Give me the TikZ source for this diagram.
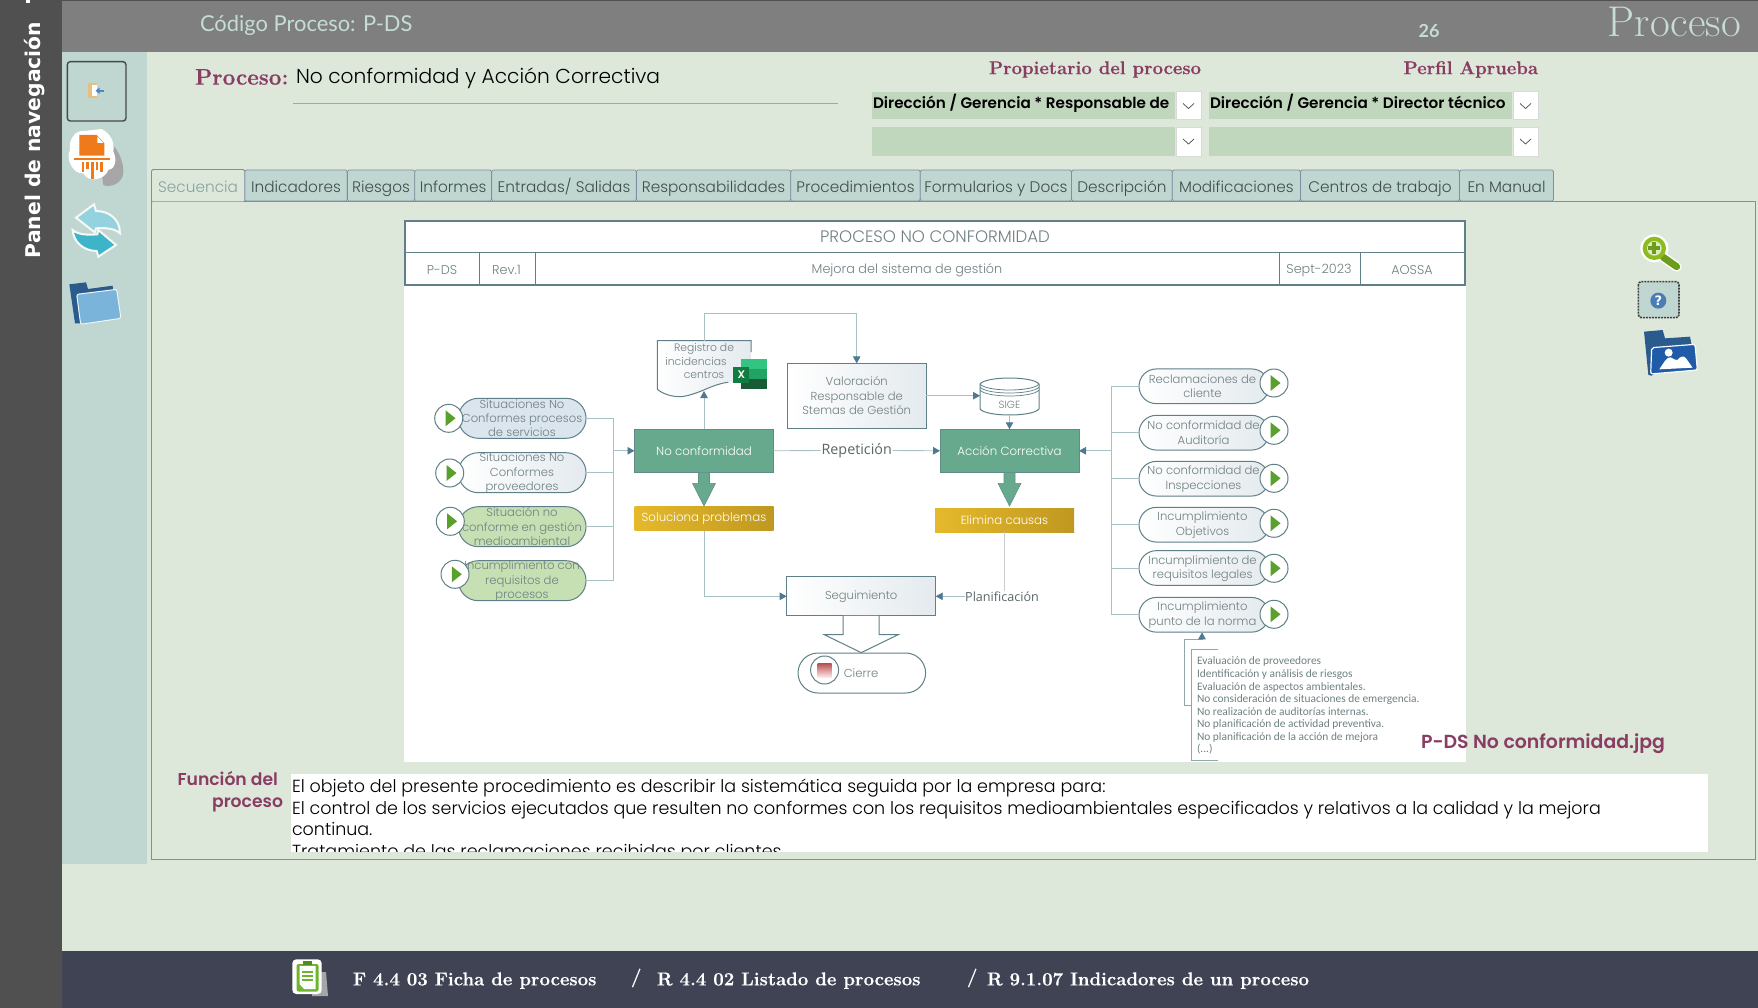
\documentclass[tikz,border=0pt]{standalone}
\usepackage{fontspec}
\usepackage{xcolor}
\usepackage{tikz}
\usetikzlibrary{arrows.meta,shapes.misc,shapes.geometric,shadings}
\newfontfamily\gothic{Poppins Light}
\newfontfamily\gothicb{Poppins SemiBold}
\newfontfamily\plainsans{Open Sans}
\newfontfamily\smallsans{Carlito}
\newfontfamily\headsans{Lato}
\newfontfamily\panelsans{DejaVu Sans}
\newfontfamily\modernb[FakeBold=0.5]{Latin Modern Roman}
\newcommand{\fs}[2]{\fontsize{#1}{#2}\selectfont}
\definecolor{pagebg}{HTML}{DDE8DB}
\definecolor{sideteal}{HTML}{C0D6D0}
\definecolor{barGrey}{HTML}{7F7F7F}
\definecolor{bandGrey}{HTML}{505050}
\definecolor{footDark}{HTML}{404354}
\definecolor{maroon}{HTML}{8A3D63}
\definecolor{fieldgreen}{HTML}{C1D7BD}
\definecolor{headtxt}{HTML}{C6DCD6}
\definecolor{tabline}{HTML}{7F8FA3}
\definecolor{tabtxt}{HTML}{3F4D4F}
\definecolor{seltxt}{HTML}{86A3A0}
\definecolor{docline}{HTML}{5F8088}
\definecolor{doctxt}{HTML}{6F8082}
\definecolor{flowline}{HTML}{A9C0C6}
\definecolor{tipblue}{HTML}{4D7A90}
\definecolor{boxgreen}{HTML}{66A98C}
\definecolor{gold1}{HTML}{E6B92B}
\definecolor{gold2}{HTML}{BF9820}
\definecolor{pillblue}{HTML}{DAE5ED}
\definecolor{pillgreen}{HTML}{C6E0B4}
\definecolor{softgrey}{HTML}{E4EAEE}
\definecolor{playgreen}{HTML}{5AA02C}
\definecolor{xlone}{HTML}{33C481}
\definecolor{xltwo}{HTML}{21A366}
\definecolor{xlthree}{HTML}{185C37}
\definecolor{xlfour}{HTML}{107C41}
\definecolor{clipgreen}{HTML}{6DB52D}
\definecolor{clipdark}{HTML}{4D8F1E}
\definecolor{doorskin}{HTML}{E8BF7E}
\definecolor{doorblue}{HTML}{4A86C5}
\definecolor{shredorange}{HTML}{EE7A1C}
\definecolor{synclight}{HTML}{93D2DE}
\definecolor{syncdark}{HTML}{3DB4C8}
\definecolor{folderdark}{HTML}{2B5A8C}
\definecolor{folderlight}{HTML}{7AB4DA}
\definecolor{foldermid}{HTML}{1F5BA8}
\definecolor{lensgreen}{HTML}{8DBB1E}
\definecolor{lensdark}{HTML}{6D9C1A}
\definecolor{lenspale}{HTML}{DCEBC4}
\definecolor{helpblue}{HTML}{4A7CB5}
\tikzset{
  plaintxt/.style={inner sep=0pt,outer sep=0pt},
  tabbox/.style={plaintxt,draw=tabline,line width=0.8pt,fill=sideteal,rounded corners=1.5pt,minimum height=31pt,text height=15pt,text depth=0pt,text=tabtxt,font=\gothic\fs{15.3}{17}},
  cell/.style={plaintxt,text=doctxt,font=\gothic\fs{12.8}{15}},
  flowtxt/.style={plaintxt,align=center,text=doctxt,font=\gothic\fs{11.6}{14.3}},
  pilltxt/.style={plaintxt,align=center,text=doctxt,font=\gothic\fs{11.6}{14.3}},
  pill/.style={rounded rectangle,draw=docline,line width=1pt,minimum height=#1,inner sep=0pt,outer sep=0pt},
  pillL/.style={pill=40pt,minimum width=127.7pt},
  pillR/.style={pill=34.7pt,minimum width=130pt},
  softfill/.style={left color=white,right color=softgrey},
  flowbox/.style={plaintxt,draw=docline,line width=1pt,left color=white,right color=softgrey},
  greenbox/.style={plaintxt,draw=docline!70!boxgreen,line width=0.8pt,fill=boxgreen,text=white,minimum width=139pt,minimum height=43pt,font=\gothic\fs{11.8}{14}},
  goldbox/.style={plaintxt,left color=gold1,right color=gold2,text=white,minimum width=139pt,minimum height=24pt,font=\gothic\fs{11.8}{14}},
  playcirc/.style={circle,draw=docline,line width=1pt,fill=white,minimum size=28pt,inner sep=0pt,outer sep=0pt},
  flow/.style={draw=flowline,line width=0.9pt},
  flowto/.style={flow,-{Triangle[length=7pt,width=7.5pt,color=tipblue]}},
  blockarrow/.style={draw=docline!60!boxgreen,line width=0.6pt,fill=boxgreen},
  combofield/.style={fill=fieldgreen},
  combobtn/.style={fill=white,draw=black!15,line width=0.8pt},
  chevron/.style={draw=black!70,line width=0.7pt},
  footlink/.style={plaintxt,anchor=west,text=white,font=\modernb\bfseries\fs{18.6}{20}}
}
\begin{document}
\begin{tikzpicture}[x=1pt,y=-1pt]
\useasboundingbox (0,0) rectangle (1758,1008);
\fill[pagebg] (0,0) rectangle (1758,1008);
\fill[bandGrey] (0,0) rectangle (62,1008);
\fill[barGrey] (62,0) rectangle (1758,52);
\fill[bandGrey] (62,0) rectangle (1758,1);
\fill[sideteal] (62,52) rectangle (147,864);
\fill[footDark] (62,951) rectangle (1758,1008);
\fill[white] (26,0) rectangle (30,3);
\node[plaintxt,rotate=90,text=white,font=\panelsans\bfseries\fs{20.3}{22}] (panel) at (35,140) {Panel de navegación};
\node[plaintxt,anchor=west,text=headtxt,font=\headsans\fs{21.9}{24}] (codigo) at (200,25) {Código Proceso: P-DS};
\node[plaintxt,text=headtxt,font=\headsans\bfseries\fs{18}{20}] (numero) at (1429,31) {26};
\node[plaintxt,anchor=east,text=headtxt,font=\fs{43}{46}] (procesotop) at (1741,22) {Proceso};
\node[plaintxt,anchor=west,text=maroon,font=\modernb\bfseries\fs{22.5}{26}] (procesolbl) at (195,77) {Proceso:};
\node[plaintxt,anchor=west,text=black,font=\gothic\fs{20.2}{24}] (procesonom) at (296,78) {No conformidad y Acción Correctiva};
\draw[black!35,line width=0.8pt] (293,103.5) -- (838,103.5);
\node[plaintxt,anchor=east,text=maroon,font=\modernb\bfseries\fs{18.5}{22}] (propiet) at (1201,69.5) {Propietario del proceso};
\node[plaintxt,anchor=east,text=maroon,font=\modernb\bfseries\fs{18.5}{22}] (perfil) at (1538,69.5) {Perfil Aprueba};
\fill[combofield] (872,92) rectangle (1175,119);
\fill[combofield] (1209,92) rectangle (1512,119);
\fill[combofield] (872,127) rectangle (1175,156);
\fill[combofield] (1209,127) rectangle (1512,156);
\filldraw[combobtn] (1176,91.5) rectangle (1201,119.5);
\filldraw[combobtn] (1513,91.5) rectangle (1538,119.5);
\filldraw[combobtn] (1176,127) rectangle (1201,156);
\filldraw[combobtn] (1513,127) rectangle (1538,156);
\draw[chevron] (1183,103.5) -- (1188.5,108.5) -- (1194,103.5);
\draw[chevron] (1520,103.5) -- (1525.5,108.5) -- (1531,103.5);
\draw[chevron] (1183,139) -- (1188.5,144) -- (1194,139);
\draw[chevron] (1520,139) -- (1525.5,144) -- (1531,139);
\node[plaintxt,anchor=west,text=black,font=\gothicb\fs{15.2}{18}] (combo1) at (873,103) {Dirección / Gerencia * Responsable de};
\node[plaintxt,anchor=west,text=black,font=\gothicb\fs{15.2}{18}] (combo2) at (1210,103) {Dirección / Gerencia * Director técnico};
\draw[tabline,line width=0.8pt] (151.5,201) rectangle (1755,859);
\node[tabbox,minimum width=102.7pt] (tabind) at (296,185.5) {Indicadores};
\node[tabbox,minimum width=67.3pt] (tabrie) at (381,185.5) {Riesgos};
\node[tabbox,minimum width=76.9pt] (tabinf) at (453.1,185.5) {Informes};
\node[tabbox,minimum width=144.8pt] (tabent) at (564,185.5) {Entradas/ Salidas};
\node[tabbox,minimum width=154.3pt] (tabres) at (713.5,185.5) {Responsabilidades};
\node[tabbox,minimum width=129.6pt] (tabpro) at (855.5,185.5) {Procedimientos};
\node[tabbox,minimum width=151.2pt] (tabfor) at (995.9,185.5) {Formularios y Docs};
\node[tabbox,minimum width=100.8pt] (tabdes) at (1121.9,185.5) {Descripción};
\node[tabbox,minimum width=128.2pt] (tabmod) at (1236.4,185.5) {Modificaciones};
\node[tabbox,minimum width=159pt] (tabcen) at (1380,185.5) {Centros de trabajo};
\node[tabbox,minimum width=94.1pt] (tabman) at (1506.5,185.5) {En Manual};
\node[tabbox,draw=none,fill=pagebg,text=seltxt,minimum width=93.2pt,minimum height=32pt] (tabsec) at (198.1,185.5) {Secuencia};
\draw[tabline,line width=0.8pt,rounded corners=1.5pt] (tabsec.south west) |- (tabsec.north east) -- (tabsec.south east);
\fill[white] (404,220) rectangle (1466,762);
\draw[docline,line width=1.2pt] (405,221) rectangle (1465,285);
\draw[docline,line width=1.2pt] (405,252.5) -- (1465,252.5);
\draw[docline,line width=1pt] (479,252.5) -- (479,285);
\draw[docline,line width=1pt] (535,252.5) -- (535,285);
\draw[docline,line width=1pt] (1279,252.5) -- (1279,285);
\draw[docline,line width=1pt] (1360,252.5) -- (1360,285);
\node[cell,font=\gothic\fs{16.6}{19}] (doctitulo) at (935,237) {PROCESO NO CONFORMIDAD};
\node[cell] (docpds) at (442,270) {P-DS};
\node[cell] (docrev) at (506.5,270) {Rev.1};
\node[cell] (docmejora) at (907,270) {Mejora del sistema de gestión};
\node[cell] (docfecha) at (1319,270) {Sept-2023};
\node[cell] (docaossa) at (1412,270) {AOSSA};
\coordinate (busL) at (613.3,450.8);
\coordinate (busR) at (1111.3,450.8);
\node[pillL,fill=pillblue] (sit1) at (522.2,418.3) {};
\node[pillL,softfill] (sit2) at (522.2,472.7) {};
\node[pillL,fill=pillgreen] (sit3) at (522.2,526.7) {};
\node[pillL,fill=pillgreen] (sit4) at (522.2,580.7) {};
\draw[flow] (sit1.east) -| (busL);
\draw[flow] (sit2.east) -| (busL);
\draw[flow] (sit3.east) -| (busL);
\draw[flow] (sit4.east) -| (busL);
\node[pilltxt] (sit1txt) at (522,418.3) {Situaciones No\\Conformes procesos\\de servicios};
\node[pilltxt] (sit2txt) at (522,473.2) {Situaciones No\\Conformes\\proveedores};
\node[pilltxt] (sit3txt) at (522,526.7) {Situación no\\conforme en gestión\\medioambiental};
\node[pilltxt] (sit4txt) at (522,581.2) {Incumplimiento con\\requisitos de\\procesos};
\node[playcirc] (play1) at (448.7,418.3) {};
\fill[playgreen] (445.5,410.3) -- (455.5,418.3) -- (445.5,426.3) -- cycle;
\node[playcirc] (play2) at (449.7,473) {};
\fill[playgreen] (446.5,465) -- (456.5,473) -- (446.5,481) -- cycle;
\node[playcirc] (play3) at (450.3,521.3) {};
\fill[playgreen] (447.1,513.3) -- (457.1,521.3) -- (447.1,529.3) -- cycle;
\node[playcirc] (play4) at (455,574.3) {};
\fill[playgreen] (451.8,566.3) -- (461.8,574.3) -- (451.8,582.3) -- cycle;
\node[greenbox] (noconf) at (704,450.8) {No conformidad};
\node[goldbox] (soluciona) at (704,518.7) {Soluciona problemas};
\draw[flowto] (busL) -- (noconf.west);
\draw[blockarrow] ([xshift=-5.5pt]noconf.south) -- ++(0,11) -- ++(-6,0) -- ++(11.5,22.7) -- ++(11.5,-22.7) -- ++(-6,0) -- ++(0,-11) -- cycle;
\shade[left color=white,right color=softgrey] (657.3,340.7) -- (751,340.7) -- (751,382) -- (728.3,382.3) .. controls (712,384) and (700,394) .. (681.7,396.7) .. controls (672,397) and (663,394) .. (657.3,389.3) -- cycle;
\draw[docline,line width=1pt] (751,352) -- (751,340.7) -- (657.3,340.7) -- (657.3,389.3) .. controls (663,394) and (672,397) .. (681.7,396.7) .. controls (700,394) and (712,384) .. (728.3,382.3);
\node[plaintxt,text=doctxt,font=\gothic\fs{10.8}{13}] (reg1) at (704,349) {Registro de};
\node[plaintxt,text=doctxt,font=\gothic\fs{10.8}{13}] (reg2) at (696,361.5) {incidencias};
\node[plaintxt,text=doctxt,font=\gothic\fs{10.8}{13}] (reg3) at (704,374.5) {centros};
\fill[xlone] (741,359.3) rectangle (767,369);
\fill[xltwo] (741,369) rectangle (767,379);
\fill[xlthree] (741,379) rectangle (767,389.3);
\fill[xlfour] (733.3,366.7) rectangle (749.3,382.7);
\node[plaintxt,text=white,font=\gothicb\fs{11}{13}] (excelx) at (741.3,374.7) {X};
\coordinate (regtop) at (704,340.7);
\coordinate (regbot) at (704,391);
\coordinate (regup) at (704,313.3);
\draw[flowto] (noconf.north) -- (regbot);
\node[flowbox,minimum width=138.7pt,minimum height=64.7pt,flowtxt] (valoracion) at (856.7,395.7) {Valoración\\Responsable de\\Stemas de Gestión};
\draw[flow] (regtop) -- (regup);
\draw[flowto] (regup) -| (valoracion.north);
\node[greenbox] (accion) at (1009.5,450.8) {Acción Correctiva};
\node[goldbox] (elimina) at (1004.5,520.3) {Elimina causas};
\draw[blockarrow] ([xshift=-5.5pt]accion.south) -- ++(0,11) -- ++(-6,0) -- ++(11.5,22.7) -- ++(11.5,-22.7) -- ++(-6,0) -- ++(0,-11) -- cycle;
\node[plaintxt,minimum width=59pt,minimum height=39pt] (sige) at (1009.5,395.7) {};
\filldraw[fill=white,draw=docline,line width=1pt] (980,384) -- (980,409) .. controls (986,417) and (1033,417) .. (1039,409) -- (1039,384) .. controls (1033,376) and (986,376) .. (980,384) -- cycle;
\draw[docline,line width=0.8pt] (980,384) .. controls (986,392) and (1033,392) .. (1039,384);
\draw[docline,line width=0.7pt] (980,387) .. controls (986,395) and (1033,395) .. (1039,387);
\draw[docline,line width=0.7pt] (980,390) .. controls (986,398) and (1033,398) .. (1039,390);
\node[plaintxt,text=doctxt,font=\gothic\fs{10.4}{12}] (sigetxt) at (1009.5,405) {SIGE};
\draw[flowto] (valoracion.east) -- (sige.west);
\draw[flowto] (sige.south) -- (accion.north);
\node[plaintxt,fill=white,inner xsep=1pt,text=doctxt!80!black,font=\plainsans\fs{14.3}{16}] (repeticion) at (856.7,450.5) {Repetición};
\draw[flow] (noconf.east) -- (repeticion.west);
\draw[flowto] (repeticion.east) -- (accion.west);
\node[flowbox,minimum width=149pt,minimum height=39.3pt,flowtxt] (seguimiento) at (861.2,596.3) {Seguimiento};
\draw[flowto] (soluciona.south) |- (seguimiento.west);
\node[plaintxt,text=doctxt!80!black,font=\plainsans\fs{12.6}{16}] (planif) at (1002,596.3) {Planificación};
\draw[flow,draw=black!20] (elimina.south) -- (elimina.south |- planif.north);
\draw[flowto] (planif.west) -- (seguimiento.east);
\draw[draw=docline,line width=1pt,fill=white] ([xshift=-18pt]seguimiento.south) -- ++(0,18.7) -- ++(-19,0) -- ++(37,18) -- ++(37,-18) -- ++(-19,0) -- ++(0,-18.7);
\node[pill=40pt,minimum width=127.6pt,fill=white] (cierrepill) at (861.8,673) {};
\node[circle,draw=docline,line width=1pt,fill=white,minimum size=28pt,inner sep=0pt] (cierrecirc) at (824.6,670) {};
\shade[top color=red!60!black!70,bottom color=red!10] (817.5,663) rectangle (831.6,677);
\node[plaintxt,text=doctxt,font=\gothic\fs{11.6}{14}] (cierre) at (861,673) {Cierre};
\node[pillR,softfill] (rec1) at (1204,386.3) {};
\node[pillR,softfill] (rec2) at (1204,432.7) {};
\node[pillR,softfill] (rec3) at (1204,478.7) {};
\node[pillR,softfill] (rec4) at (1204,524.7) {};
\node[pillR,softfill] (rec5) at (1204,568) {};
\node[pillR,softfill] (rec6) at (1204,614.8) {};
\draw[flow] (rec1.west) -| (busR);
\draw[flow] (rec2.west) -| (busR);
\draw[flow] (rec3.west) -| (busR);
\draw[flow] (rec4.west) -| (busR);
\draw[flow] (rec5.west) -| (busR);
\draw[flow] (rec6.west) -| (busR);
\draw[flowto] (busR) -- (accion.east);
\node[pilltxt] (rec1txt) at (1202.5,386.3) {Reclamaciones de\\cliente};
\node[pilltxt] (rec2txt) at (1203.5,432.7) {No conformidad de\\Auditoría};
\node[pilltxt] (rec3txt) at (1203.5,479) {No conformidad de\\Inspecciones};
\node[pilltxt] (rec4txt) at (1202.5,525) {Incumplimiento\\Objetivos};
\node[pilltxt] (rec5txt) at (1202.5,568.5) {Incumplimiento de\\requisitos legales};
\node[pilltxt] (rec6txt) at (1202.5,615) {Incumplimiento\\punto de la norma};
\node[playcirc] (playr1) at (1274,383) {};
\fill[playgreen] (1270.5,375) -- (1280.5,383) -- (1270.5,391) -- cycle;
\node[playcirc] (playr2) at (1274,430.3) {};
\fill[playgreen] (1270.5,422.3) -- (1280.5,430.3) -- (1270.5,438.3) -- cycle;
\node[playcirc] (playr3) at (1274,478.3) {};
\fill[playgreen] (1270.5,470.3) -- (1280.5,478.3) -- (1270.5,486.3) -- cycle;
\node[playcirc] (playr4) at (1274,523.3) {};
\fill[playgreen] (1270.5,515.3) -- (1280.5,523.3) -- (1270.5,531.3) -- cycle;
\node[playcirc] (playr5) at (1274,568.3) {};
\fill[playgreen] (1270.5,560.3) -- (1280.5,568.3) -- (1270.5,576.3) -- cycle;
\node[playcirc] (playr6) at (1274,614.3) {};
\fill[playgreen] (1270.5,606.3) -- (1280.5,614.3) -- (1270.5,622.3) -- cycle;
\coordinate (causaspie) at (1184.6,639.3);
\coordinate (causasbra) at (1191.6,705);
\coordinate (recseis) at (1202,632.3);
\draw[flow,draw=docline!70] (causasbra) -| (causaspie);
\draw[flowto,draw=docline!70] (causaspie) -| (recseis);
\draw[docline!70,line width=1pt] (1218,649.3) -- (1191.6,649.3) -- (1191.6,760.7) -- (1218,760.7);
\node[plaintxt,anchor=north west,align=left,text=doctxt,font=\smallsans\fs{11.4}{12.55}] (causas) at (1197,657) {Evaluación de proveedores\\Identificación y análisis de riesgos\\Evaluación de aspectos ambientales.\\No consideración de situaciones de emergencia.\\No realización de auditorías internas.\\No planificación de actividad preventiva.\\No planificación de la acción de mejora\\(...)};
\node[plaintxt,anchor=west,text=maroon,font=\gothicb\fs{18.9}{21}] (imagen) at (1421,743.5) {P-DS No conformidad.jpg};
\node[plaintxt,anchor=east,text=maroon,font=\gothicb\fs{17.2}{20}] (funcion1) at (278,779) {Función del};
\node[plaintxt,anchor=east,text=maroon,font=\gothicb\fs{17.2}{20}] (funcion2) at (283,805) {proceso};
\fill[white] (291,774) rectangle (1708,851.7);
\begin{scope}
\clip (291,774) rectangle (1708,851.7);
\node[plaintxt,anchor=north west,align=left,text=black,font=\gothic\fs{17.5}{21.7}] (objeto) at (292,779) {El objeto del presente procedimiento es describir la sistemática seguida por la empresa para:\\El control de los servicios ejecutados que resulten no conformes con los requisitos medioambientales especificados y relativos a la calidad y la mejora\\continua.\\Tratamiento de las reclamaciones recibidas por clientes.};
\end{scope}
\node[footlink] (ficha) at (353,980.7) {F 4.4 03 Ficha de procesos};
\node[footlink] (slash1) at (631,978) {/};
\node[footlink] (listado) at (657,980.7) {R 4.4 02 Listado de procesos};
\node[footlink] (slash2) at (967,978) {/};
\node[footlink] (indic) at (987,980.7) {R 9.1.07 Indicadores de un proceso};
\fill[black!35] (312,972) -- (326,972) -- (328,996) -- (312,996) -- cycle;
\fill[white,rounded corners=4pt] (292.3,959.3) rectangle (321.7,994);
\fill[clipgreen,rounded corners=2pt] (296.5,964) rectangle (318.5,991.5);
\fill[white] (299.5,966) -- (315.5,966) -- (315.5,989) -- (304,989) -- (299.5,984) -- cycle;
\fill[clipgreen] (302,971) rectangle (313,973);
\fill[clipgreen] (302,975) rectangle (313,977);
\fill[clipgreen] (302,979) rectangle (313,981);
\fill[clipdark] (303,960.5) rectangle (312,965);
\filldraw[draw=black!65!sideteal,line width=1.4pt,fill=sideteal,rounded corners=3pt] (67.3,61.7) rectangle (126,121);
\fill[doorskin] (88.3,83.3) rectangle (96.5,97.7);
\fill[white] (91.5,85) rectangle (96.5,96);
\draw[doorblue,line width=1.8pt,-{Triangle[length=4pt,width=6pt]}] (104,90.7) -- (95.5,90.7);
\begin{scope}[shift={(60,55)},scale=1/3]
\fill[black!35] (110,250) .. controls (150,240) and (190,300) .. (190,350) .. controls (190,385) and (150,400) .. (130,390) -- cycle;
\fill[white] (72,228) -- (125,222) .. controls (150,235) and (165,260) .. (160,290) .. controls (175,320) and (160,345) .. (145,345) .. controls (135,375) and (85,385) .. (70,355) .. controls (40,360) and (15,310) .. (30,285) .. controls (25,255) and (45,225) .. (72,228) -- cycle;
\fill[shredorange] (58,240) -- (110,240) -- (133,265) -- (133,302) -- (58,302) -- cycle;
\fill[white] (112,245) -- (130,264) -- (112,264) -- cycle;
\fill[shredorange] (42,308) rectangle (150,316);
\fill[shredorange] (65,320) rectangle (73,352);
\fill[shredorange] (79,320) rectangle (87,342);
\fill[shredorange] (93,320) rectangle (101,372);
\fill[shredorange] (107,320) rectangle (115,345);
\fill[shredorange] (121,320) rectangle (129,352);
\end{scope}
\begin{scope}[shift={(60,195)},scale=1/3]
\filldraw[fill=synclight,draw=white!85!sideteal,line width=2pt] (48,68) -- (102,28) -- (108,48) .. controls (150,48) and (180,75) .. (180,115) .. controls (165,100) and (135,98) .. (108,100) -- (104,112) -- cycle;
\filldraw[fill=syncdark,draw=white!85!sideteal,line width=2pt] (168,150) -- (115,185) -- (110,168) .. controls (70,168) and (40,140) .. (38,105) .. controls (55,120) and (85,120) .. (112,118) -- (115,105) -- cycle;
\fill[folderdark] (28,268) -- (78,262) -- (84,282) -- (158,272) -- (160,300) -- (60,385) -- (45,385) -- cycle;
\filldraw[fill=folderlight,draw=white!75!sideteal,line width=1pt,rounded corners=2pt] (50,298) -- (170,283) -- (183,370) -- (62,388) -- cycle;
\end{scope}
\begin{scope}[shift={(1620,225)},scale=1/3]
\draw[white,line width=10pt,line cap=round] (130,97) -- (170,125);
\fill[white] (103,70) circle (42);
\draw[lensdark,line width=7pt,line cap=round] (130,97) -- (170,125);
\fill[lensgreen] (103,70) circle (35);
\fill[lenspale] (103,70) circle (22);
\fill[lensdark] (97,52) rectangle (109,88);
\fill[lensdark] (85,64) rectangle (121,76);
\filldraw[fill=sideteal,draw=black!75,line width=1.6pt,dash pattern=on 2pt off 1pt,rounded corners=3pt] (55,170) rectangle (177,278);
\fill[helpblue] (115,227) circle (24);
\node[plaintxt,text=white,font=\panelsans\bfseries\fs{13}{15}] (ayuda) at (115,227) {?};
\fill[folderdark] (72,320) -- (128,315) -- (135,340) -- (210,335) -- (215,360) -- (95,452) -- (85,450) -- cycle;
\filldraw[fill=foldermid,draw=white!80!pagebg,line width=1.2pt,rounded corners=2pt] (95,368) -- (225,358) -- (232,435) -- (92,447) -- cycle;
\fill[white] (146,383) circle (12);
\fill[white] (118,433) .. controls (130,415) and (140,395) .. (152,397) .. controls (162,400) and (165,408) .. (172,405) .. controls (180,395) and (190,390) .. (198,400) -- (218,428) -- cycle;
\end{scope}
\end{tikzpicture}
\end{document}
